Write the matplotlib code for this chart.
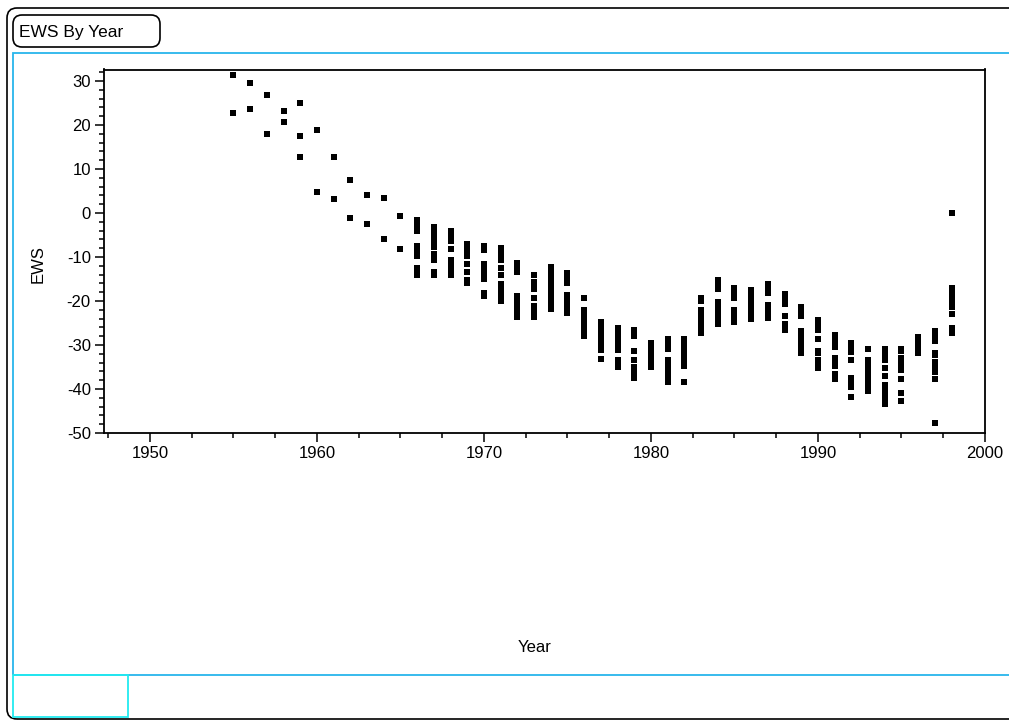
import matplotlib.pyplot as plt
import numpy as np
from matplotlib.patches import FancyBboxPatch, Rectangle
from matplotlib.ticker import MultipleLocator

# -----------------------------
# data
# -----------------------------
years = [1955, 1956, 1957, 1958, 1959, 1960, 1961, 1962, 1963, 1964, 1965,
         1966, 1967, 1968, 1969, 1970, 1971, 1972, 1973, 1974, 1975, 1976,
         1977, 1978, 1979, 1980, 1981, 1982, 1983, 1984, 1985, 1986, 1987,
         1988, 1989, 1990, 1991, 1992, 1993, 1994, 1995, 1996, 1997, 1998]

ews_per_year = [
    [31.3, 22.7],
    [29.6, 23.6],
    [26.7, 17.9],
    [23.1, 20.6],
    [25.0, 17.4, 12.7],
    [18.9, 4.7],
    [12.7, 3.2],
    [7.5, -1.2],
    [4.1, -2.6],
    [3.5, -6.0],
    [-0.7, -8.3],
    [-1.6, -2.5, -3.3, -4.1, -7.4, -8.2, -9.0, -9.7, -12.6, -13.4, -14.2],
    [-3.3, -4.2, -5.1, -6.0, -6.9, -7.7, -9.4, -10.1, -10.7, -13.5, -14.0],
    [-4.2, -5.2, -6.3, -8.2, -10.8, -11.7, -12.5, -13.4, -14.2],
    [-7.0, -7.9, -8.9, -9.8, -11.7, -13.5, -15.2, -16.0],
    [-7.4, -8.5, -11.7, -12.6, -13.5, -14.3, -15.1, -18.3, -18.8],
    [-7.9, -8.8, -9.8, -10.7, -12.4, -14.2, -16.1, -17.1, -18.1, -19.1, -20.1],
    [-11.3, -12.4, -13.5, -18.8, -19.8, -20.7, -21.7, -22.6, -23.6],
    [-14.0, -15.7, -16.5, -17.3, -19.3, -21.2, -22.0, -22.8, -23.6],
    [-12.2, -13.2, -14.2, -15.2, -16.2, -17.1, -18.1, -19.1, -20.0, -21.0, -21.9],
    [-13.6, -14.4, -15.2, -16.0, -18.7, -19.7, -20.7, -21.7, -22.8],
    [-19.4, -22.0, -22.9, -23.8, -24.8, -25.7, -26.6, -27.3, -28.0],
    [-24.7, -25.6, -26.5, -27.4, -28.4, -29.3, -30.2, -31.2, -33.1],
    [-26.1, -27.1, -28.1, -29.1, -30.2, -31.2, -33.4, -34.2, -35.0],
    [-26.6, -27.3, -28.0, -31.3, -33.4, -35.1, -35.9, -36.8, -37.6],
    [-29.6, -30.5, -31.4, -32.3, -33.2, -34.1, -35.0],
    [-28.6, -29.7, -30.8, -33.4, -34.4, -35.4, -36.4, -37.4, -38.4],
    [-28.6, -29.5, -30.4, -31.3, -32.1, -33.0, -33.9, -34.7, -38.5],
    [-19.3, -20.0, -22.0, -22.9, -23.8, -24.6, -25.5, -26.4, -27.2],
    [-15.2, -16.2, -17.3, -20.2, -21.2, -22.2, -23.2, -24.2, -25.2],
    [-17.0, -18.2, -19.4, -22.0, -22.9, -23.8, -24.7],
    [-17.4, -18.4, -19.3, -20.3, -21.3, -22.2, -23.2, -24.2],
    [-16.1, -17.2, -18.3, -20.9, -21.9, -22.8, -23.8],
    [-18.4, -19.5, -20.6, -23.3, -25.2, -25.8, -26.5],
    [-21.3, -22.3, -23.3, -26.8, -27.8, -28.8, -29.8, -30.8, -31.8],
    [-24.3, -25.4, -26.5, -28.6, -31.3, -31.8, -33.4, -34.3, -35.2],
    [-27.7, -28.6, -29.5, -30.4, -32.9, -33.8, -34.7, -36.6, -37.7],
    [-29.5, -30.5, -31.5, -33.3, -37.5, -38.5, -39.5, -41.8],
    [-30.9, -33.4, -34.4, -35.4, -36.4, -37.4, -38.4, -39.4, -40.4],
    [-30.9, -31.7, -32.5, -33.3, -35.2, -37.0, -39.1, -40.0, -40.8, -41.6, -42.5, -43.4],
    [-30.9, -31.3, -32.9, -33.8, -34.7, -35.6, -37.7, -40.9, -42.7],
    [-28.1, -29.0, -30.0, -30.9, -31.8],
    [-26.8, -27.9, -29.0, -31.8, -32.2, -33.8, -34.6, -35.4, -36.1, -37.7, -47.7],
    [0.1, -17.0, -17.9, -18.7, -19.6, -20.4, -21.3, -22.9, -26.1, -27.2],
]

x_ticks = [1950, 1960, 1970, 1980, 1990, 2000]
y_ticks = [-50, -40, -30, -20, -10, 0, 10, 20, 30]

xs = np.concatenate([[yr] * len(v) for yr, v in zip(years, ews_per_year)])
ys = np.concatenate(ews_per_year)

# -----------------------------
# style
# -----------------------------
plt.rcParams["font.family"] = ["Liberation Sans", "DejaVu Sans"]
plt.rcParams["axes.unicode_minus"] = False
W, H = 1009, 722
fig = plt.figure(figsize=(W / 100, H / 100), dpi=100)


def px_box(x0, y0, x1, y1):
    # pixel box (top-left origin) -> inches for dpi_scale_trans
    return x0 / 100, (H - y1) / 100, (x1 - x0) / 100, (y1 - y0) / 100


# frame decorations (JMP-like report)
bx, by, bw, bh = px_box(7, 8, 1030, 719)
fig.patches.append(FancyBboxPatch((bx, by), bw, bh, boxstyle="round,pad=0,rounding_size=0.1",
                                  transform=fig.dpi_scale_trans, fill=False,
                                  edgecolor="black", linewidth=1.2))
bx, by, bw, bh = px_box(13, 15, 160, 47)
fig.patches.append(FancyBboxPatch((bx, by), bw, bh, boxstyle="round,pad=0,rounding_size=0.09",
                                  transform=fig.dpi_scale_trans, fill=False,
                                  edgecolor="black", linewidth=1.2))
fig.text(19 / W, 1 - 32 / H, "EWS By Year", fontsize=12.5, va="center", ha="left")

bx, by, bw, bh = px_box(13, 53, 1030, 675)
fig.patches.append(Rectangle((bx, by), bw, bh, transform=fig.dpi_scale_trans,
                             fill=False, edgecolor="#27b5ec", linewidth=1.3))
bx, by, bw, bh = px_box(13, 675, 128, 717)
fig.patches.append(Rectangle((bx, by), bw, bh, transform=fig.dpi_scale_trans,
                             fill=False, edgecolor="#22eaf0", linewidth=1.3))

# -----------------------------
# scatter
# -----------------------------
ax = fig.add_axes([104 / W, 1 - 433 / H, (985 - 104) / W, (433 - 69.5) / H])
ax.plot(xs, ys, linestyle="none", marker="s", markersize=4.4,
        markeredgewidth=0, color="black")

ax.set_xlim(1947.25, 2000)
ax.set_ylim(-50, 32.6)
ax.set_xticks(x_ticks)
ax.set_yticks(y_ticks)
ax.xaxis.set_minor_locator(MultipleLocator(2.5))
ax.yaxis.set_minor_locator(MultipleLocator(2))
ax.tick_params(which="major", direction="out", length=6.5, width=1.1, labelsize=12, pad=3)
ax.tick_params(which="minor", direction="out", length=3.6, width=1.1)
for s in ax.spines.values():
    s.set_linewidth(1.3)

fig.text(38 / W, 1 - 264 / H, "EWS", rotation=90, fontsize=12, ha="center", va="center")
fig.text(535 / W, 1 - 648 / H, "Year", fontsize=12, ha="center", va="center")

plt.savefig("out.png", dpi=100)
